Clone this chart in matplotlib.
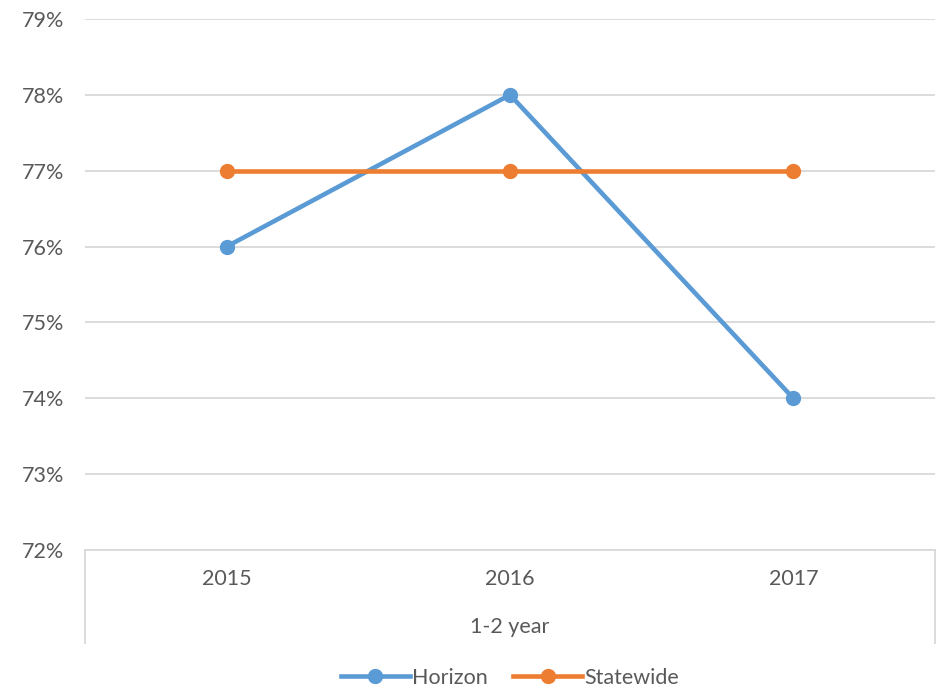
import matplotlib.pyplot as plt
from matplotlib.ticker import FuncFormatter

years = ['2015', '2016', '2017']
group_label = '1-2 year'
horizon = [0.76, 0.78, 0.74]
statewide = [0.77, 0.77, 0.77]

plt.rcParams['font.family'] = ['Lato', 'DejaVu Sans']
txt = '#595959'
grid = '#D9D9D9'
fs = 15.5

fig = plt.figure(figsize=(9.41, 6.91), dpi=100)
ax = fig.add_axes([85 / 941, (691 - 550) / 691, 850 / 941, 531 / 691])

x = range(len(years))
ax.plot(x, horizon, color='#5B9BD5', lw=3.3, marker='o', ms=10, label='Horizon')
ax.plot(x, statewide, color='#ED7D31', lw=3.3, marker='o', ms=10, label='Statewide')

ax.set_xlim(-0.5, len(years) - 0.5)
ax.set_ylim(0.72, 0.79)
ax.set_yticks([0.72 + i * 0.01 for i in range(8)])
ax.yaxis.set_major_formatter(FuncFormatter(lambda v, p: f'{v * 100:.0f}%'))
ax.grid(axis='y', color=grid, lw=1.3)
ax.set_axisbelow(True)
for s in ['top', 'right', 'left']:
    ax.spines[s].set_visible(False)
ax.spines['bottom'].set_color(grid)
ax.spines['bottom'].set_linewidth(1.3)
ax.tick_params(axis='y', length=0, labelsize=fs, labelcolor=txt, pad=15)
ax.set_xticks([])

# category box under the axis
for xx in [0, 1]:
    ax.plot([xx, xx], [0, -0.175], transform=ax.transAxes, color=grid, lw=1.3, clip_on=False)
for i, y in enumerate(years):
    ax.text(i, -0.055, y, transform=ax.get_xaxis_transform(), ha='center', va='center',
            fontsize=fs, color=txt)
ax.text(0.5, -0.145, group_label, transform=ax.transAxes, ha='center', va='center',
        fontsize=fs, color=txt)

leg = ax.legend(loc='center', bbox_to_anchor=(0.5, -0.241), ncol=2, frameon=False,
                fontsize=fs, handlelength=3.2, columnspacing=1.2, handletextpad=0.1)
for t in leg.get_texts():
    t.set_color(txt)

fig.savefig('out.png', dpi=100)
